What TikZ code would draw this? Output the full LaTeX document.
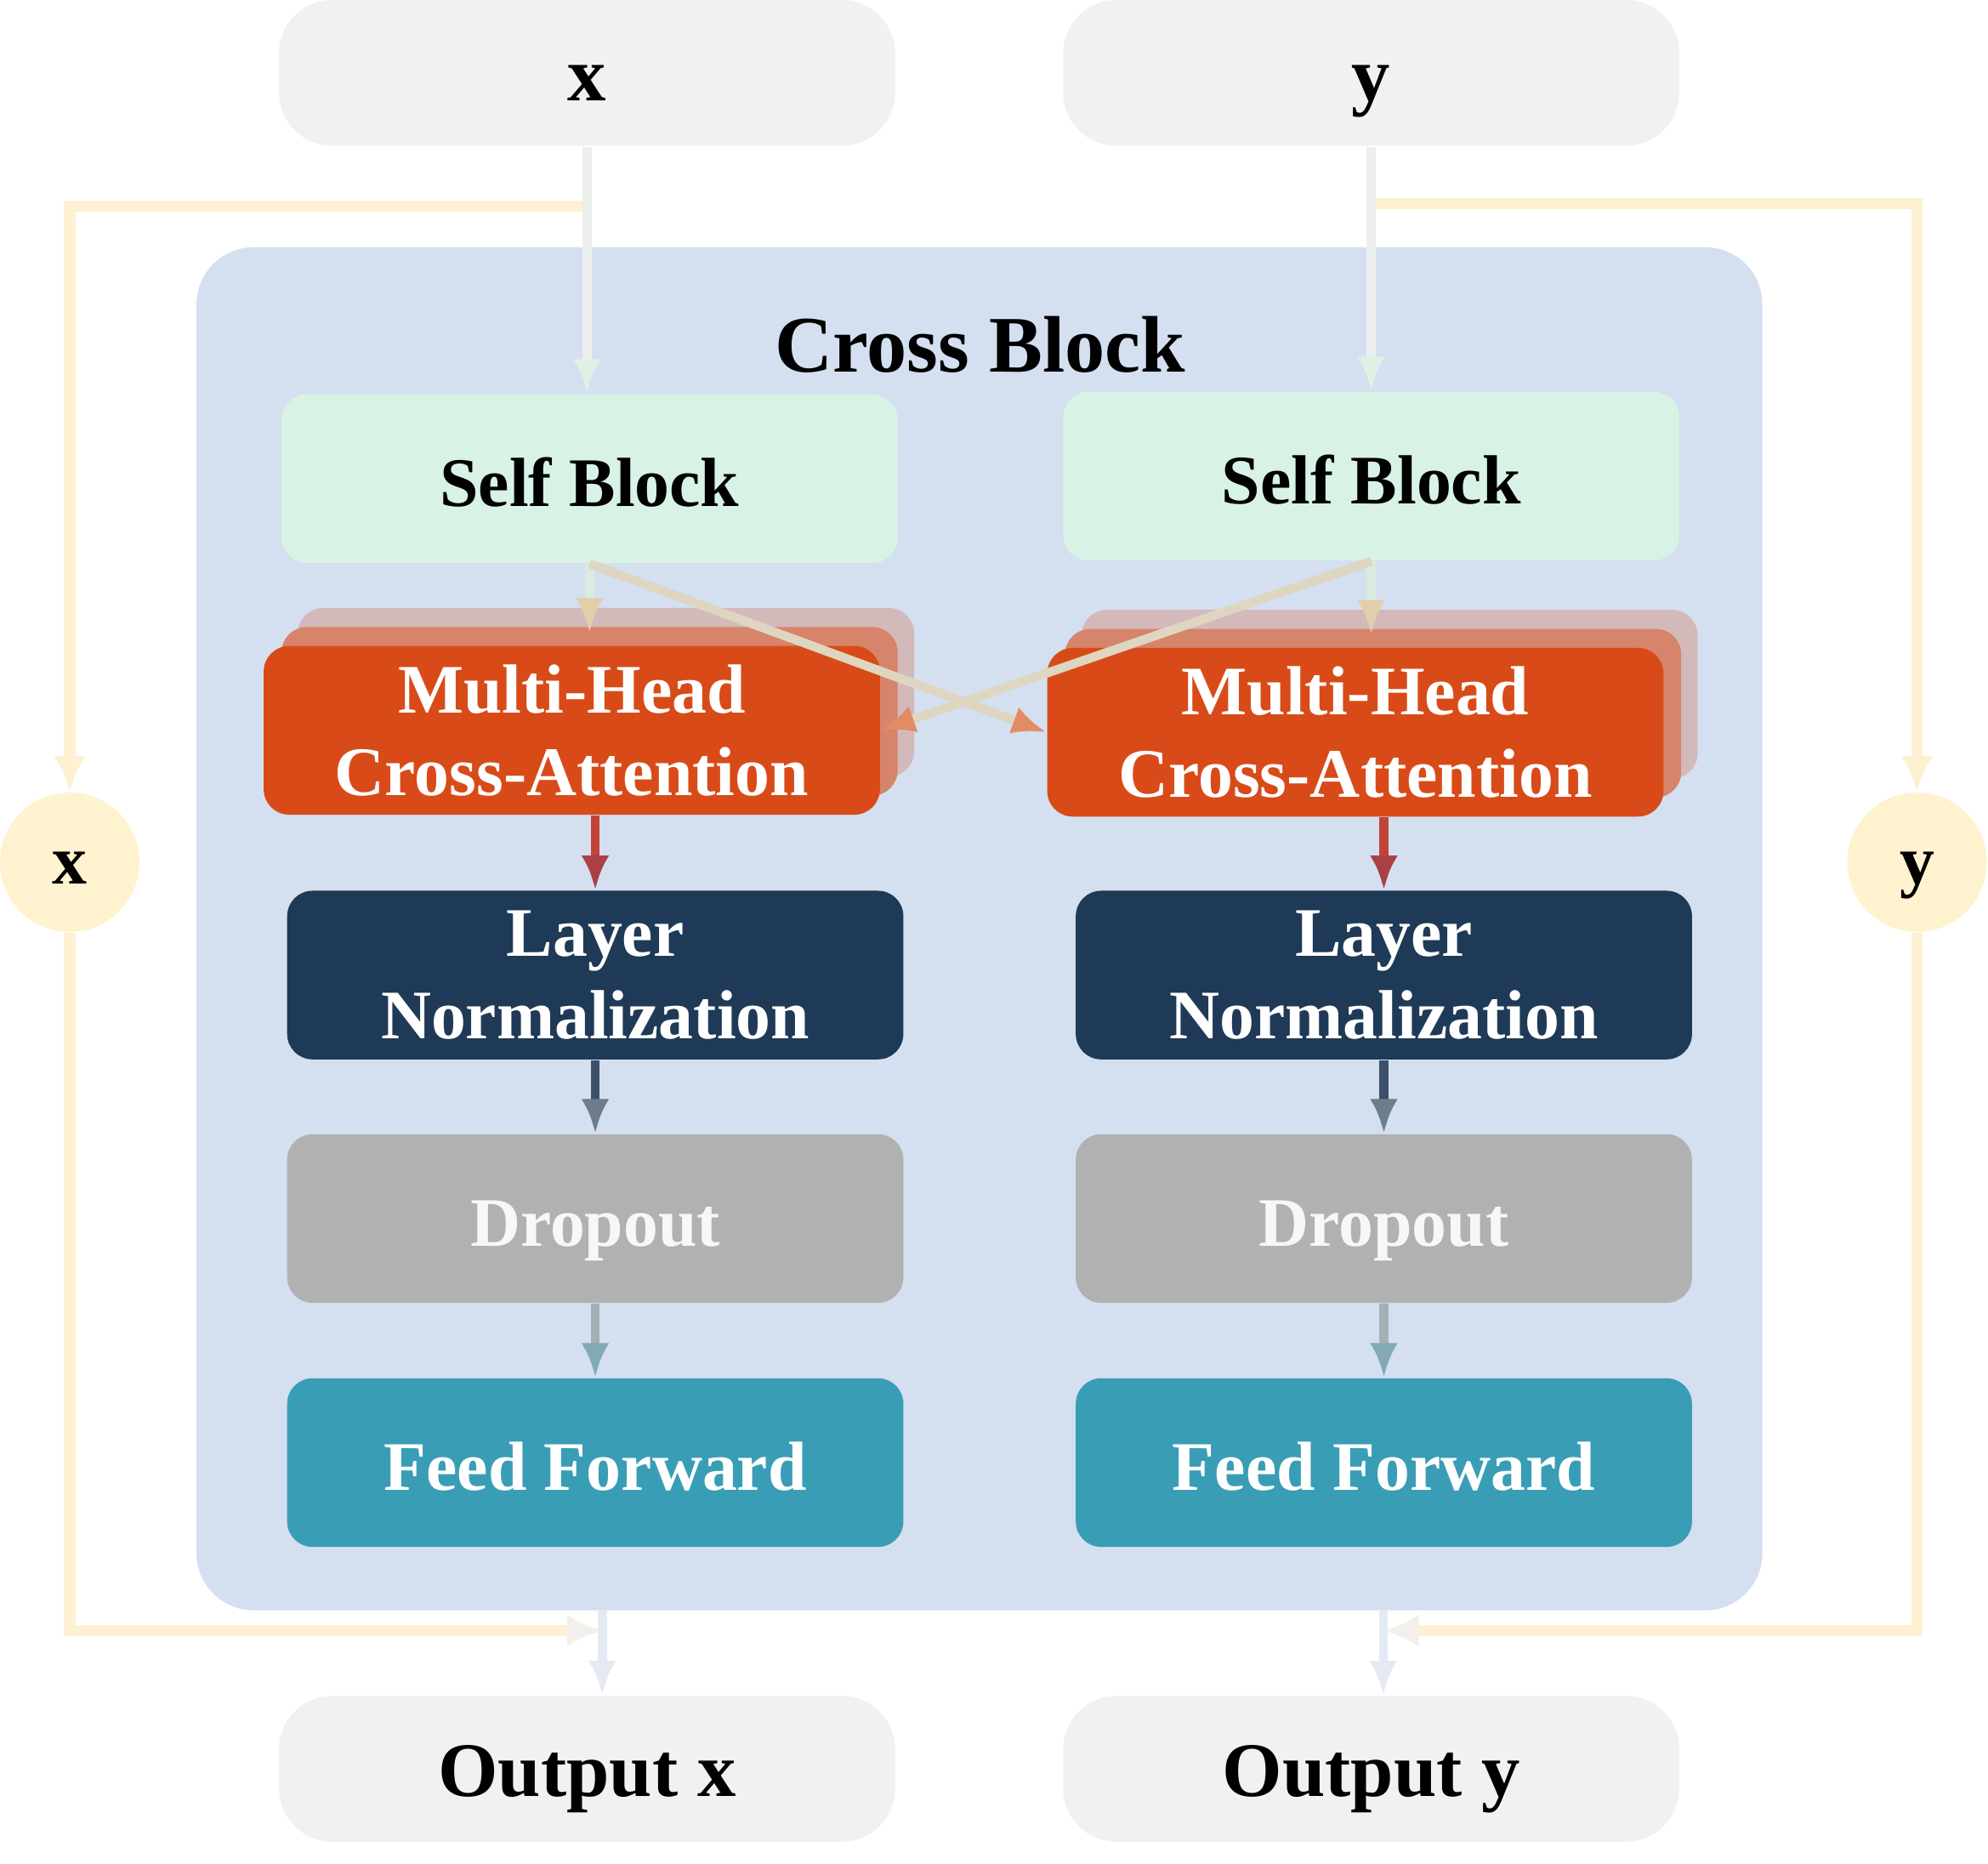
\documentclass[tikz,border=0pt]{standalone}
\usepackage{fontspec}
\setmainfont{Liberation Serif}
\usetikzlibrary{arrows.meta, calc, shadows}

\definecolor{iobg}{RGB}{241,241,241}
\definecolor{crossbg}{RGB}{212,223,240}
\definecolor{selfbg}{RGB}{217,242,230}
\definecolor{mhred}{RGB}{216,75,24}
\definecolor{mhnear}{RGB}{214,132,106}
\definecolor{mhfar}{RGB}{212,185,187}
\definecolor{lnblue}{RGB}{31,58,86}
\definecolor{dogray}{RGB}{177,177,177}
\definecolor{ffteal}{RGB}{58,157,182}
\definecolor{resyel}{RGB}{255,242,206}
% arrow colours: line / head
\definecolor{inline}{RGB}{236,239,236}
\definecolor{inhead}{RGB}{224,240,229}
\definecolor{outline}{RGB}{228,234,244}
\definecolor{resline}{RGB}{254,241,210}
\definecolor{reshead}{RGB}{243,240,236}
\definecolor{sbline}{RGB}{217,236,222}
\definecolor{sbhead}{RGB}{226,206,170}
\definecolor{xline}{RGB}{222,214,192}
\definecolor{xhead}{RGB}{226,140,100}
\definecolor{mhline}{RGB}{192,68,56}
\definecolor{mhhead}{RGB}{170,64,70}
\definecolor{lnline}{RGB}{60,80,105}
\definecolor{lnhead}{RGB}{110,125,140}
\definecolor{doline}{RGB}{165,175,182}
\definecolor{dohead}{RGB}{130,170,182}

\begin{document}
\begin{tikzpicture}[
    box/.style={rounded corners=0.2cm, minimum width=4.86cm, minimum height=1.33cm, inner sep=0pt, align=center, font=\fontsize{15.6}{18.5}\selectfont\bfseries},
    oneline/.style={text height=0.44cm, text depth=0pt},
    io/.style={box, oneline, fill=iobg, rounded corners=0.42cm, minimum height=1.15cm, font=\fontsize{17.3}{20}\selectfont\bfseries},
    selfb/.style={box, oneline, fill=selfbg},
    mhead/.style={box, fill=mhred, text=white,
        general shadow={fill=mhfar, shadow xshift=0.27cm, shadow yshift=0.30cm},
        general shadow={fill=mhnear, shadow xshift=0.14cm, shadow yshift=0.15cm}},
    lnorm/.style={box, fill=lnblue, text=white},
    drop/.style={box, oneline, fill=dogray, text=white!97!black},
    ffwd/.style={box, oneline, fill=ffteal, text=white},
    resc/.style={circle, fill=resyel, minimum size=1.1cm, inner sep=0pt, text height=0.34cm, text depth=0pt, font=\fontsize{15.6}{18.5}\selectfont\bfseries},
    arr/.style={line width=2pt, -{Latex[length=0.27cm, width=0.22cm, color=#1]}},
    res/.style={line width=2.6pt, -{Latex[length=0.28cm, width=0.26cm, color=#1]}}
]
\useasboundingbox (0,0) rectangle (15.68,-14.70);

\node[fill=crossbg, rounded corners=0.45cm, minimum width=12.35cm, minimum height=10.75cm] (cb) at (7.725,-7.325) {};
\node[font=\fontsize{18}{21}\selectfont\bfseries] (title) at (7.73,-2.72) {Cross Block};

\node[io] (inx) at (4.63,-0.575) {x};
\node[io] (iny) at (10.815,-0.575) {y};
\node[selfb] (sbx) at (4.65,-3.775) {Self Block};
\node[selfb] (sby) at (10.815,-3.755) {Self Block};
\node[mhead] (mhx) at (4.51,-5.76) {Multi-Head\\Cross-Attention};
\node[mhead] (mhy) at (10.69,-5.775) {Multi-Head\\Cross-Attention};
\node[lnorm] (lnx) at (4.695,-7.69) {Layer\\Normalization};
\node[lnorm] (lny) at (10.915,-7.69) {Layer\\Normalization};
\node[drop] (dox) at (4.695,-9.61) {Dropout};
\node[drop] (doy) at (10.915,-9.61) {Dropout};
\node[ffwd] (ffx) at (4.695,-11.535) {Feed Forward};
\node[ffwd] (ffy) at (10.915,-11.535) {Feed Forward};
\node[io] (outx) at (4.63,-13.95) {Output x};
\node[io] (outy) at (10.815,-13.95) {Output y};
\node[resc] (cx) at (0.55,-6.80) {x};
\node[resc] (cy) at (15.12,-6.80) {y};

\coordinate (bx) at ($(inx.south)+(0,-0.47)$);
\coordinate (by) at ($(iny.south)+(0,-0.45)$);
\coordinate (ox) at (4.75,-12.70);
\coordinate (oy) at (10.91,-12.70);
\coordinate (jx) at ($(ox)+(0,-0.16)$);
\coordinate (jy) at ($(oy)+(0,-0.16)$);

% residual branches
\draw[res=resline, resline] (bx) -| (cx.north);
\draw[res=resline, resline] (by) -| (cy.north);
\draw[res=reshead, resline] (cx.south) |- (jx);
\draw[res=reshead, resline] (cy.south) |- (jy);

% main flow
\draw[arr=inhead, inline] (inx.south) -- (inx.south |- sbx.north);
\draw[arr=inhead, inline] (iny.south) -- (iny.south |- sby.north);
\draw[arr=sbhead, sbline] (sbx.south) -- ($(sbx.south |- mhx.north)+(0,0.10)$);
\draw[arr=sbhead, sbline] (sby.south) -- ($(sby.south |- mhy.north)+(0,0.10)$);
\draw[arr=xhead, xline] (sbx.south) -- (mhy.west);
\draw[arr=xhead, xline] (sby.south) -- (mhx.east);
\draw[arr=mhhead, mhline] (mhx.south -| lnx) -- (lnx.north);
\draw[arr=mhhead, mhline] (mhy.south -| lny) -- (lny.north);
\draw[arr=lnhead, lnline] (lnx.south) -- (dox.north);
\draw[arr=lnhead, lnline] (lny.south) -- (doy.north);
\draw[arr=dohead, doline] (dox.south) -- (ffx.north);
\draw[arr=dohead, doline] (doy.south) -- (ffy.north);
\draw[arr=outline, outline] (ox) -- (ox |- outx.north);
\draw[arr=outline, outline] (oy) -- (oy |- outy.north);
\end{tikzpicture}
\end{document}
